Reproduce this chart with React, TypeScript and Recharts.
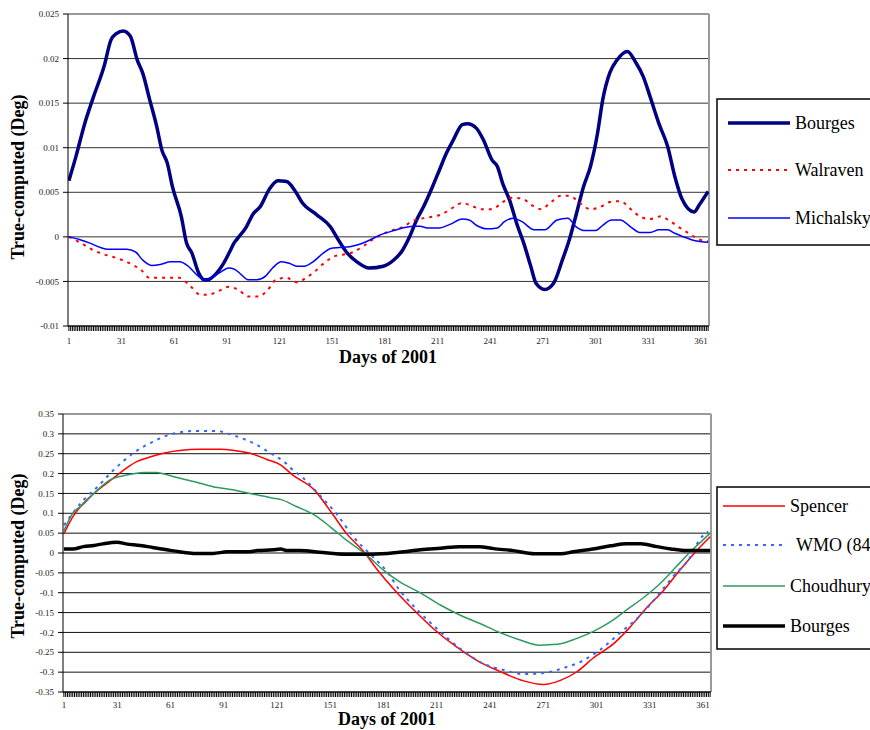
import { LineChart, Line, XAxis, YAxis, CartesianGrid, ReferenceLine } from 'recharts'

type Pt = [number, number]

// x axis: one minor tick per day, labels every 30 days
const dayTicks = Array.from({ length: 365 }, (_, i) => i + 1)
const dayLabels = [1, 31, 61, 91, 121, 151, 181, 211, 241, 271, 301, 331, 361]

const topYTicks = [-0.01, -0.005, 0, 0.005, 0.01, 0.015, 0.02, 0.025]
const bottomYTicks = [-0.35, -0.3, -0.25, -0.2, -0.15, -0.1, -0.05, 0, 0.05, 0.1, 0.15, 0.2, 0.25, 0.3, 0.35]

const topNames = ['Bourges', 'Walraven', 'Michalsky']
const bottomNames = ['Spencer', 'WMO (84)', 'Choudhury', 'Bourges']

// [day, true - computed]
const topBourges: Pt[] = [
  [1, 0.0063], [5, 0.009], [10, 0.0127], [15, 0.0157], [21, 0.0191], [25, 0.0221], [28, 0.0228], [32, 0.0231],
  [36, 0.0225], [40, 0.0198], [43, 0.0184], [47, 0.0154], [51, 0.0124], [54, 0.0097], [57, 0.0083], [60, 0.0056],
  [65, 0.0023], [68, -0.0007], [71, -0.0018], [75, -0.0041], [78, -0.0048], [80, -0.0048], [85, -0.0041], [89, -0.003],
  [93, -0.0015], [95, -0.0007], [97, -0.0002], [102, 0.0011], [106, 0.0026], [110, 0.0034], [115, 0.0053], [120, 0.0063],
  [125, 0.0062], [130, 0.0051], [134, 0.0038], [142, 0.0025], [150, 0.0011], [154, -0.0002], [159, -0.0017], [165, -0.0028],
  [172, -0.0035], [180, -0.0033], [186, -0.0026], [191, -0.0015], [195, 0.0], [199, 0.0019], [203, 0.0034], [208, 0.0056],
  [212, 0.0075], [216, 0.0094], [220, 0.0109], [225, 0.0126], [228, 0.0127], [233, 0.0122], [237, 0.0109], [242, 0.0086],
  [245, 0.0079], [248, 0.006], [252, 0.0041], [256, 0.0015], [260, -0.0007], [264, -0.0033], [267, -0.0052], [272, -0.0059],
  [277, -0.0052], [282, -0.0026], [286, -0.0003], [290, 0.0026], [294, 0.0056], [298, 0.0079], [302, 0.0116], [305, 0.0154],
  [309, 0.0184], [313, 0.0198], [319, 0.0208], [324, 0.0195], [328, 0.018], [332, 0.0157], [337, 0.0127], [342, 0.0101],
  [346, 0.0068], [350, 0.0043], [357, 0.0028], [360, 0.0036], [365, 0.0051],
]

const topWalraven: Pt[] = [
  [1, 0.0], [8, -0.0007], [14, -0.0014], [20, -0.0019], [27, -0.0023], [36, -0.003], [42, -0.0037], [47, -0.0046],
  [53, -0.0046], [59, -0.0046], [64, -0.0046], [70, -0.0055], [76, -0.0065], [80, -0.0065], [86, -0.0061], [92, -0.0056],
  [98, -0.006], [103, -0.0067], [109, -0.0067], [114, -0.006], [119, -0.0048], [125, -0.0046], [131, -0.0051], [136, -0.0046],
  [141, -0.0039], [146, -0.003], [152, -0.0022], [157, -0.002], [163, -0.0017], [169, -0.001], [174, -0.0003], [186, 0.0008],
  [191, 0.0011], [197, 0.0018], [203, 0.0021], [209, 0.0023], [213, 0.0025], [219, 0.0032], [225, 0.0038], [230, 0.0035],
  [236, 0.0031], [242, 0.0031], [248, 0.0039], [253, 0.0044], [259, 0.0043], [265, 0.0035], [270, 0.0031], [275, 0.0038],
  [281, 0.0046], [286, 0.0046], [292, 0.0038], [298, 0.0031], [303, 0.0033], [309, 0.0039], [315, 0.004], [321, 0.0031],
  [326, 0.0023], [332, 0.002], [338, 0.0023], [343, 0.0018], [349, 0.001], [354, 0.0004], [360, -0.0003], [365, -0.0005],
]

const topMichalsky: Pt[] = [
  [1, 0.0], [7, -0.0003], [13, -0.0007], [19, -0.0012], [23, -0.0014], [34, -0.0014], [39, -0.0017], [43, -0.0026],
  [48, -0.0032], [53, -0.0031], [59, -0.0028], [64, -0.0028], [69, -0.0033], [74, -0.0043], [78, -0.0048], [82, -0.0046],
  [87, -0.004], [92, -0.0035], [95, -0.0036], [99, -0.0042], [103, -0.0048], [108, -0.0048], [113, -0.0044], [117, -0.0035],
  [122, -0.0028], [127, -0.003], [131, -0.0033], [135, -0.0033], [140, -0.0028], [146, -0.0018], [150, -0.0013], [155, -0.0012],
  [161, -0.0011], [167, -0.0008], [173, -0.0003], [178, 0.0002], [186, 0.0007], [191, 0.001], [197, 0.0012], [201, 0.0012],
  [205, 0.001], [212, 0.001], [218, 0.0014], [225, 0.002], [229, 0.0019], [233, 0.0013], [239, 0.0009], [245, 0.001],
  [249, 0.0017], [254, 0.0021], [259, 0.0017], [266, 0.0008], [272, 0.0008], [279, 0.0019], [285, 0.0021], [290, 0.0011],
  [295, 0.0007], [301, 0.0007], [305, 0.0013], [310, 0.0019], [315, 0.0019], [321, 0.0011], [326, 0.0005], [332, 0.0005],
  [337, 0.0008], [342, 0.0008], [346, 0.0004], [351, 0.0], [357, -0.0004], [365, -0.0006],
]

// [day, true - computed]
const bottomSpencer: Pt[] = [
  [1, 0.048], [6, 0.091], [12, 0.125], [19, 0.154], [25, 0.175], [31, 0.196], [36, 0.213], [42, 0.23], [49, 0.241],
  [57, 0.251], [66, 0.258], [78, 0.261], [89, 0.261], [96, 0.259], [106, 0.251], [115, 0.236], [123, 0.222], [130, 0.196],
  [142, 0.159], [152, 0.1], [160, 0.05], [170, 0.003], [177, -0.039], [188, -0.097], [198, -0.143], [209, -0.19],
  [222, -0.236], [235, -0.274], [247, -0.299], [260, -0.322], [271, -0.331], [281, -0.32], [290, -0.299], [299, -0.265],
  [311, -0.227], [320, -0.186], [329, -0.139], [339, -0.093], [348, -0.043], [356, -0.001], [365, 0.041],
]

const bottomWmo: Pt[] = [
  [1, 0.07], [6, 0.1], [12, 0.133], [20, 0.167], [29, 0.209], [40, 0.251], [51, 0.28], [63, 0.301], [74, 0.307],
  [87, 0.307], [96, 0.297], [108, 0.276], [119, 0.247], [125, 0.23], [130, 0.209], [136, 0.188], [145, 0.146], [155, 0.096],
  [164, 0.041], [174, -0.005], [183, -0.047], [190, -0.093], [200, -0.143], [211, -0.19], [224, -0.24], [237, -0.278],
  [249, -0.295], [260, -0.305], [273, -0.301], [282, -0.29], [292, -0.274], [303, -0.244], [314, -0.202], [326, -0.156],
  [335, -0.11], [344, -0.06], [354, -0.009], [359, 0.033], [364, 0.054],
]

const bottomChoudhury: Pt[] = [
  [1, 0.056], [6, 0.1], [12, 0.123], [20, 0.159], [27, 0.184], [36, 0.196], [46, 0.203], [53, 0.203], [63, 0.192],
  [74, 0.18], [85, 0.167], [96, 0.159], [108, 0.148], [119, 0.138], [123, 0.135], [132, 0.117], [142, 0.096], [151, 0.066],
  [160, 0.033], [171, -0.003], [181, -0.043], [190, -0.072], [202, -0.101], [213, -0.131], [224, -0.156], [235, -0.177],
  [247, -0.201], [258, -0.219], [269, -0.232], [279, -0.23], [290, -0.215], [299, -0.198], [309, -0.173], [318, -0.143],
  [327, -0.114], [337, -0.076], [346, -0.034], [355, 0.008], [361, 0.033], [365, 0.05],
]

const bottomBourges: Pt[] = [
  [1, 0.01], [6, 0.01], [12, 0.016], [18, 0.019], [23, 0.023], [31, 0.027], [36, 0.023], [44, 0.019], [51, 0.014],
  [59, 0.008], [66, 0.003], [74, -0.001], [85, -0.001], [93, 0.003], [104, 0.003], [110, 0.006], [119, 0.008], [123, 0.01],
  [127, 0.006], [134, 0.006], [145, 0.002], [160, -0.003], [175, -0.003], [190, 0.002], [202, 0.008], [213, 0.012],
  [224, 0.016], [235, 0.016], [243, 0.011], [254, 0.006], [266, -0.002], [281, -0.002], [288, 0.003], [299, 0.01],
  [309, 0.018], [318, 0.023], [326, 0.023], [335, 0.016], [343, 0.01], [352, 0.006], [365, 0.006],
]

const toRows = (pts: Pt[]) => pts.map(([day, value]) => ({ day, value }))

interface SeriesStyle {
  color: string
  width: number
  dash?: string
}

const topStyles: SeriesStyle[] = [
  { color: '#000080', width: 3.5 },
  { color: '#ff0000', width: 2, dash: '3 5' },
  { color: '#0000ff', width: 1.5 },
]
const bottomStyles: SeriesStyle[] = [
  { color: '#ff0000', width: 1.5 },
  { color: '#3366ff', width: 2, dash: '3 5' },
  { color: '#2e9b5e', width: 1.5 },
  { color: '#000000', width: 3.5 },
]

const topSeries = [topBourges, topWalraven, topMichalsky]
const bottomSeries = [bottomSpencer, bottomWmo, bottomChoudhury, bottomBourges]

const serif = "'Liberation Serif', 'Times New Roman', serif"
const tickStyle = { fontSize: 9, fill: '#222', fontFamily: serif }
const dayFormatter = (d: number) => (dayLabels.includes(d) ? String(d) : '')

function Legend({ names, styles, left, top, height, rowYs, lineX1, lineX2, textX }: {
  names: string[]
  styles: SeriesStyle[]
  left: number
  top: number
  height: number
  rowYs: number[]
  lineX1: number
  lineX2: number
  textX: number
}) {
  return (
    <g>
      <rect x={left} y={top} width={220} height={height} fill="#fff" stroke="#000" strokeWidth={1.5} />
      {names.map((name, i) => (
        <g key={name + i}>
          <line x1={lineX1} x2={lineX2} y1={rowYs[i]} y2={rowYs[i]} stroke={styles[i].color}
            strokeWidth={styles[i].width} strokeDasharray={styles[i].dash} />
          <text x={textX + (name.startsWith('WMO') ? 6 : 0)} y={rowYs[i] + 6}
            style={{ fontFamily: serif, fontSize: 18 }} fill="#000">{name}</text>
        </g>
      ))}
    </g>
  )
}

export default function App() {
  return (
    <div style={{ position: 'absolute', left: 0, top: 0, width: 870, height: 730, overflow: 'hidden', background: '#fff', fontFamily: serif }}>
      <div style={{ position: 'absolute', left: 0, top: 0 }}>
        <LineChart width={870} height={370} margin={{ top: 14, right: 161, bottom: 0, left: 0 }}>
          <CartesianGrid vertical={false} stroke="#333" />
          <XAxis type="number" dataKey="day" domain={[0.5, 365.5]} allowDataOverflow ticks={dayTicks} interval={0}
            tickFormatter={dayFormatter} height={44} tickSize={5} tickMargin={7} tick={tickStyle}
            stroke="#000" />
          <YAxis type="number" domain={[-0.01, 0.025]} ticks={topYTicks} interval={0} width={68}
            tickFormatter={(v) => String(v)} tickSize={5} tickMargin={4} tick={tickStyle} stroke="#000" />
          <ReferenceLine y={0.025} stroke="#999" strokeWidth={2} />
          <ReferenceLine x={365.5} stroke="#999" strokeWidth={2} />
          {topSeries.map((pts, i) => (
            <Line key={topNames[i]} data={toRows(pts)} dataKey="value" name={topNames[i]} type="monotone"
              stroke={topStyles[i].color} strokeWidth={topStyles[i].width} strokeDasharray={topStyles[i].dash}
              dot={false} isAnimationActive={false} />
          ))}
        </LineChart>
      </div>
      <div style={{ position: 'absolute', left: 0, top: 380 }}>
        <LineChart width={870} height={350} margin={{ top: 34, right: 159, bottom: 0, left: 0 }}>
          <CartesianGrid vertical={false} stroke="#111" />
          <XAxis type="number" dataKey="day" domain={[0.5, 365.5]} allowDataOverflow ticks={dayTicks} interval={0}
            tickFormatter={dayFormatter} height={38} tickSize={5} tickMargin={5} tick={tickStyle}
            stroke="#000" />
          <YAxis type="number" domain={[-0.35, 0.35]} ticks={bottomYTicks} interval={0} width={63}
            tickFormatter={(v) => String(v)} tickSize={5} tickMargin={4} tick={tickStyle} stroke="#000" />
          <ReferenceLine y={0.35} stroke="#999" strokeWidth={2} />
          <ReferenceLine x={365.5} stroke="#999" strokeWidth={2} />
          {bottomSeries.map((pts, i) => (
            <Line key={bottomNames[i]} data={toRows(pts)} dataKey="value" name={bottomNames[i]} type="monotone"
              stroke={bottomStyles[i].color} strokeWidth={bottomStyles[i].width} strokeDasharray={bottomStyles[i].dash}
              dot={false} isAnimationActive={false} />
          ))}
        </LineChart>
      </div>
      <svg width={870} height={730} style={{ position: 'absolute', left: 0, top: 0, pointerEvents: 'none', fontFamily: serif }}>
        <text x={18} y={177} transform="rotate(-90 18 177)" textAnchor="middle" dominantBaseline="central"
          style={{ fontFamily: serif, fontSize: 18, fontWeight: 'bold' }}>True-computed (Deg)</text>
        <text x={388} y={363} textAnchor="middle" style={{ fontFamily: serif, fontSize: 18, fontWeight: 'bold' }}>Days of 2001</text>
        <text x={18} y={556} transform="rotate(-90 18 556)" textAnchor="middle" dominantBaseline="central"
          style={{ fontFamily: serif, fontSize: 18, fontWeight: 'bold' }}>True-computed (Deg)</text>
        <text x={387} y={725} textAnchor="middle" style={{ fontFamily: serif, fontSize: 18, fontWeight: 'bold' }}>Days of 2001</text>
        <Legend names={topNames} styles={topStyles} left={717} top={99} height={146} rowYs={[123, 170, 218]}
          lineX1={728} lineX2={790} textX={795} />
        <Legend names={bottomNames} styles={bottomStyles} left={717} top={487} height={162} rowYs={[506, 545, 586, 626]}
          lineX1={723} lineX2={785} textX={790} />
      </svg>
    </div>
  )
}
